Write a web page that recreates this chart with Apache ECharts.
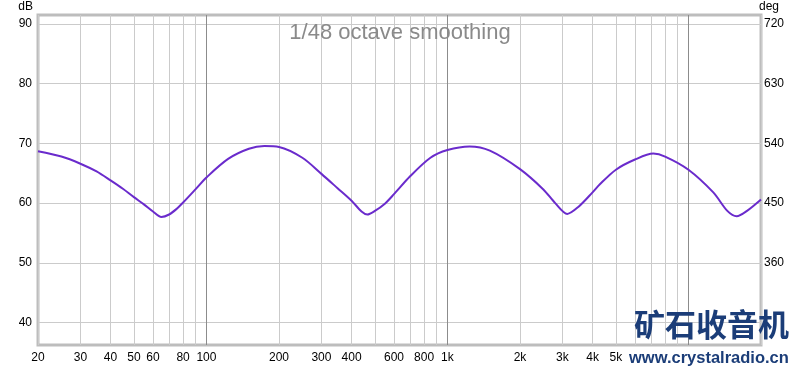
<!DOCTYPE html>
<html><head><meta charset="utf-8">
<script src="https://cdn.jsdelivr.net/npm/echarts@6/dist/echarts.min.js"></script>
<style>html,body{margin:0;padding:0;background:#fff}#c{width:800px;height:369px}</style>
</head><body><div id="c"></div>
<script>
// Frequency response (Hz -> dB)
const freqs = [20,25,30,35,40,45,50,55,60,65,70,75,80,90,100,123,150,174,200,250,300,350,400,440,465,500,550,600,700,850,1000,1236,1500,2000,2500,2800,3142,3500,4000,4300,5000,6000,7146,8000,10000,12680,14500,15850,17500,20000];
const dbValues = [68.7,67.8,66.6,65.3,63.8,62.4,61.0,59.8,58.6,57.7,58.1,59.0,60.1,62.3,64.3,67.4,69.1,69.55,69.4,67.6,64.9,62.5,60.4,58.6,58.1,58.7,59.9,61.5,64.5,67.6,68.9,69.5,68.8,65.7,62.3,60.0,58.2,59.4,61.8,63.2,65.6,67.3,68.3,67.8,65.6,61.8,58.7,57.8,58.7,60.6];
const xTicks = [20,30,40,50,60,70,80,90,100,200,300,400,500,600,700,800,900,1000,2000,3000,4000,5000,6000,7000,8000,9000,10000,20000];
const xLabels = [20,30,40,50,60,80,100,200,300,400,600,800,1000,2000,3000,4000,5000,6000,8000,10000,20000];
const xMajor = [100,1000,10000];
const dbTicks = [40,50,60,70,80,90];
const degTicks = [360,450,540,630,720];
const dbMin = 36.25, dbMax = 91.5;
const degMin = (dbMin-70)*9+540, degMax = (dbMax-70)*9+540;

const chart = echarts.init(document.getElementById('c'), null, {renderer:'canvas'});
const lbl = {color:'#000', fontFamily:'Liberation Sans, Arial', fontSize:12};
chart.setOption({
  animation:false,
  grid:{left:38,right:39,top:15,bottom:24,show:true,borderColor:'#bdbdbd',borderWidth:3,backgroundColor:'transparent'},
  xAxis:[{
    type:'log', logBase:10, min:20, max:20000,
    axisLine:{show:false}, axisTick:{show:false, customValues:xTicks},
    axisLabel:Object.assign({customValues:xLabels, margin:7, formatter:v=> v>=1000 ? (v/1000)+'k' : String(v)}, lbl),
    splitLine:{show:true, lineStyle:{color:'#cbcbcb', width:1}}
  },{
    type:'log', logBase:10, min:20, max:20000, position:'bottom',
    axisLine:{show:false}, axisTick:{show:false, customValues:xMajor},
    axisLabel:{show:false, customValues:xMajor},
    splitLine:{show:true, lineStyle:{color:'#8c8c8c', width:1}}
  }],
  yAxis:[{
    type:'value', min:dbMin, max:dbMax, name:'dB', nameGap:2,
    nameTextStyle:Object.assign({align:'right', padding:[0,5,0,0]}, lbl),
    axisLine:{show:false}, axisTick:{show:false, customValues:dbTicks},
    axisLabel:Object.assign({customValues:dbTicks, margin:6}, lbl),
    splitLine:{show:true, lineStyle:{color:'#cbcbcb', width:1}}
  },{
    type:'value', min:degMin, max:degMax, position:'right', name:'deg', nameGap:2,
    nameTextStyle:Object.assign({align:'left', padding:[0,0,0,-2]}, lbl),
    axisLine:{show:false}, axisTick:{show:false, customValues:degTicks},
    axisLabel:Object.assign({customValues:degTicks, margin:3}, lbl),
    splitLine:{show:false}
  }],
  title:{text:'1/48 octave smoothing', left:'center', top:17, textStyle:{color:'#8a8a8a', fontWeight:'normal', fontSize:22, fontFamily:'Liberation Sans, Arial'}},
  series:[{
    type:'line', xAxisIndex:0, yAxisIndex:0, smooth:0.3, symbol:'none',
    lineStyle:{color:'#6a2bcc', width:2},
    data: freqs.map((f,i)=>[f, dbValues[i]])
  }],
  graphic:[
    {type:'text', left:634, top:309, z:100, style:{text:'矿石收音机', fill:'#1b3d78', font:'bold 31px "Noto Sans CJK SC"'}},
    {type:'text', left:627, top:348, z:100, style:{text:'www.crystalradio.cn', fill:'#1b3d78', font:'bold 16.5px "Liberation Sans", Arial', backgroundColor:'#fff', padding:[2,3,3,2]}}
  ]
});
</script></body></html>
